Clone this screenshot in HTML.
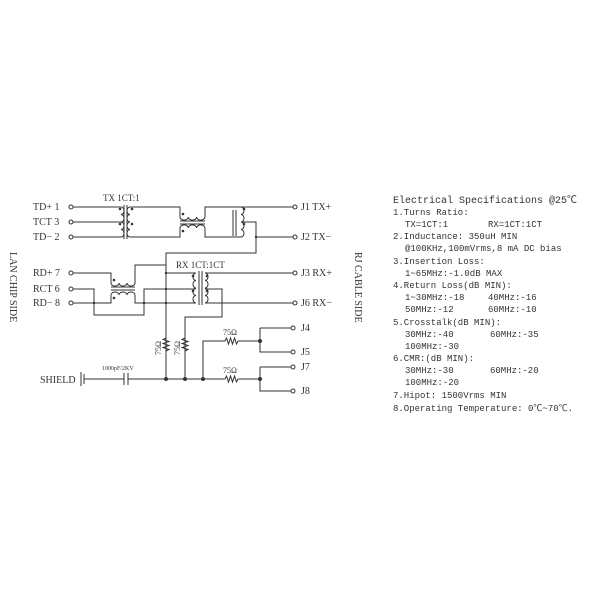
<!DOCTYPE html>
<html><head><meta charset="utf-8"><style>
html,body{margin:0;padding:0;background:#fff;}
svg{display:block}
text{font-family:"Liberation Serif","Noto Serif CJK SC",serif;fill:#333}
.m text{font-family:"Liberation Mono","Noto Sans CJK SC",monospace;font-size:9px}
</style></head><body>
<svg width="600" height="600" viewBox="0 0 600 600" xmlns="http://www.w3.org/2000/svg">
<g stroke="#333" stroke-width="1" fill="none">
<circle cx="71" cy="207" r="2"/><circle cx="71" cy="222" r="2"/><circle cx="71" cy="237" r="2"/>
<path d="M73 207H121M73 222H121M73 237H121"/>
<path d="M121 207 a3 3.75 0 0 1 0 7.5 a3 3.75 0 0 1 0 7.5 a3 3.75 0 0 1 0 7.5 a3 3.75 0 0 1 0 7.5"/>
<path d="M124 205V239M127 205V239"/>
<path d="M130 207 a3 3.75 0 0 0 0 7.5 a3 3.75 0 0 0 0 7.5 a3 3.75 0 0 0 0 7.5 a3 3.75 0 0 0 0 7.5"/>
<path d="M130 207H180V217M130 237H180V228"/>
<path d="M180 217 a4 3 0 0 0 8.3 0 a4 3 0 0 0 8.3 0 a4 3 0 0 0 8.3 0"/>
<path d="M180 221H205M180 224H205"/>
<path d="M180 228 a4 3 0 0 1 8.3 0 a4 3 0 0 1 8.3 0 a4 3 0 0 1 8.3 0"/>
<path d="M205 217V207H241M205 228V237H241"/>
<path d="M233 210V236M236 210V236"/>
<path d="M241 207 a3 3.75 0 0 1 0 7.5 a3 3.75 0 0 1 0 7.5 a3 3.75 0 0 1 0 7.5 a3 3.75 0 0 1 0 7.5"/>
<path d="M241 207H293M241 222H256V253H166V380"/>
<path d="M256 237H293"/>
<circle cx="295" cy="207" r="2"/><circle cx="295" cy="237" r="2"/>
<circle cx="71" cy="273" r="2"/><circle cx="71" cy="289" r="2"/><circle cx="71" cy="303" r="2"/>
<path d="M73 273H111V283M73 289H94V315H144V303H135V295"/>
<path d="M73 303H111V295"/>
<path d="M111 283 a4 3 0 0 0 8 0 a4 3 0 0 0 8 0 a4 3 0 0 0 8 0"/>
<path d="M111 287H135M111 290H135"/>
<path d="M111 295 a4 3 0 0 1 8 0 a4 3 0 0 1 8 0 a4 3 0 0 1 8 0"/>
<path d="M135 283V265H166V273H193M144 303H166"/>
<path d="M135 295V303M144 303V289H166"/>
<path d="M196 273 a3 3.75 0 0 0 0 7.5 a3 3.75 0 0 0 0 7.5 a3 3.75 0 0 0 0 7.5 a3 3.75 0 0 0 0 7.5"/>
<path d="M166 273H196M166 303H196M166 289H196"/>
<path d="M199 271V305M202 271V305"/>
<path d="M205 273 a3 3.75 0 0 1 0 7.5 a3 3.75 0 0 1 0 7.5 a3 3.75 0 0 1 0 7.5 a3 3.75 0 0 1 0 7.5"/>
<path d="M205 273H293M205 303H293M205 289H222V317H185V380"/>
<circle cx="295" cy="273" r="2"/><circle cx="295" cy="303" r="2"/>
<path d="M81 372V386M84 374V384M84 379H124M124 373V385M128 373V385M128 379H225M238 379H260"/>
<path d="M225 379l1.5 -3l2 6l2 -6l2 6l2 -6l2 6l1.5-3"/>
<path d="M203 379V341H225M238 341H260"/>
<path d="M225 341l1.5 -3l2 6l2 -6l2 6l2 -6l2 6l1.5-3"/>
<path d="M166 338l-3 1.5l6 2l-6 2l6 2l-6 2l6 2l-3 1.5"/>
<path d="M185 338l-3 1.5l6 2l-6 2l6 2l-6 2l6 2l-3 1.5"/>
<path d="M260 328V352H291M260 328H291M260 367V391H291M260 367H291"/>
<circle cx="293" cy="328" r="2"/><circle cx="293" cy="352" r="2"/><circle cx="293" cy="367" r="2"/><circle cx="293" cy="391" r="2"/>
</g>
<g fill="#333">
<circle cx="120" cy="209" r="1.3"/><circle cx="120" cy="224" r="1.3"/><circle cx="132" cy="209" r="1.3"/><circle cx="132" cy="224" r="1.3"/>
<circle cx="183" cy="214" r="1.3"/><circle cx="183" cy="231" r="1.3"/>
<circle cx="244" cy="209" r="1.3"/><circle cx="244" cy="224" r="1.3"/>
<circle cx="114" cy="280" r="1.3"/><circle cx="114" cy="298" r="1.3"/>
<circle cx="193" cy="276" r="1.3"/><circle cx="193" cy="291" r="1.3"/><circle cx="207" cy="276" r="1.3"/><circle cx="207" cy="291" r="1.3"/>
<circle cx="256" cy="237" r="1.2"/><circle cx="166" cy="273" r="1.2"/><circle cx="166" cy="289" r="1.2"/><circle cx="166" cy="303" r="1.2"/>
<circle cx="94" cy="303" r="1.2"/><circle cx="144" cy="303" r="1.2"/>
<circle cx="166" cy="379" r="2"/><circle cx="185" cy="379" r="2"/><circle cx="203" cy="379" r="2"/><circle cx="260" cy="379" r="2"/><circle cx="260" cy="341" r="2"/>
</g>
<g font-size="10">
<text x="33" y="210">TD+ 1</text><text x="33" y="225">TCT 3</text><text x="33" y="240">TD− 2</text>
<text x="33" y="276">RD+ 7</text><text x="33" y="292">RCT 6</text><text x="33" y="306">RD− 8</text>
<text x="103" y="201" font-size="9">TX 1CT:1</text>
<text x="176" y="268" font-size="9">RX 1CT:1CT</text>
<text x="301" y="210">J1 TX+</text><text x="301" y="240">J2 TX−</text>
<text x="301" y="276">J3 RX+</text><text x="301" y="306">J6 RX−</text>
<text x="301" y="331">J4</text><text x="301" y="355">J5</text><text x="301" y="370">J7</text><text x="301" y="394">J8</text>
<text x="40" y="383">SHIELD</text>
<text x="102" y="370" font-size="6">1000pF/2KV</text>
<text x="223" y="335" font-size="8">75Ω</text><text x="223" y="373" font-size="8">75Ω</text>
<text transform="translate(161,355) rotate(-90)" font-size="8">75Ω</text>
<text transform="translate(180,355) rotate(-90)" font-size="8">75Ω</text>
<text transform="translate(10,252) rotate(90)" font-size="10">LAN CHIP SIDE</text>
<text transform="translate(355,252) rotate(90)" font-size="10">RJ CABLE SIDE</text>
</g>
<g class="m">
<text x="393" y="203" style="font-size:10px">Electrical Specifications @25℃</text>
<text x="393" y="215">1.Turns Ratio:</text>
<text x="405" y="227">TX=1CT:1</text><text x="488" y="227">RX=1CT:1CT</text>
<text x="393" y="239">2.Inductance: 350uH MIN</text>
<text x="405" y="251">@100KHz,100mVrms,8 mA DC bias</text>
<text x="393" y="264">3.Insertion Loss:</text>
<text x="405" y="276">1~65MHz:-1.0dB MAX</text>
<text x="393" y="288">4.Return Loss(dB MIN):</text>
<text x="405" y="300">1~30MHz:-18</text><text x="488" y="300">40MHz:-16</text>
<text x="405" y="312">50MHz:-12</text><text x="488" y="312">60MHz:-10</text>
<text x="393" y="325">5.Crosstalk(dB MIN):</text>
<text x="405" y="337">30MHz:-40</text><text x="490" y="337">60MHz:-35</text>
<text x="405" y="349">100MHz:-30</text>
<text x="393" y="361">6.CMR:(dB MIN):</text>
<text x="405" y="373">30MHz:-30</text><text x="490" y="373">60MHz:-20</text>
<text x="405" y="385">100MHz:-20</text>
<text x="393" y="398">7.Hipot: 1500Vrms MIN</text>
<text x="393" y="411">8.Operating Temperature: 0℃~70℃.</text>
</g>
</svg>
</body></html>
